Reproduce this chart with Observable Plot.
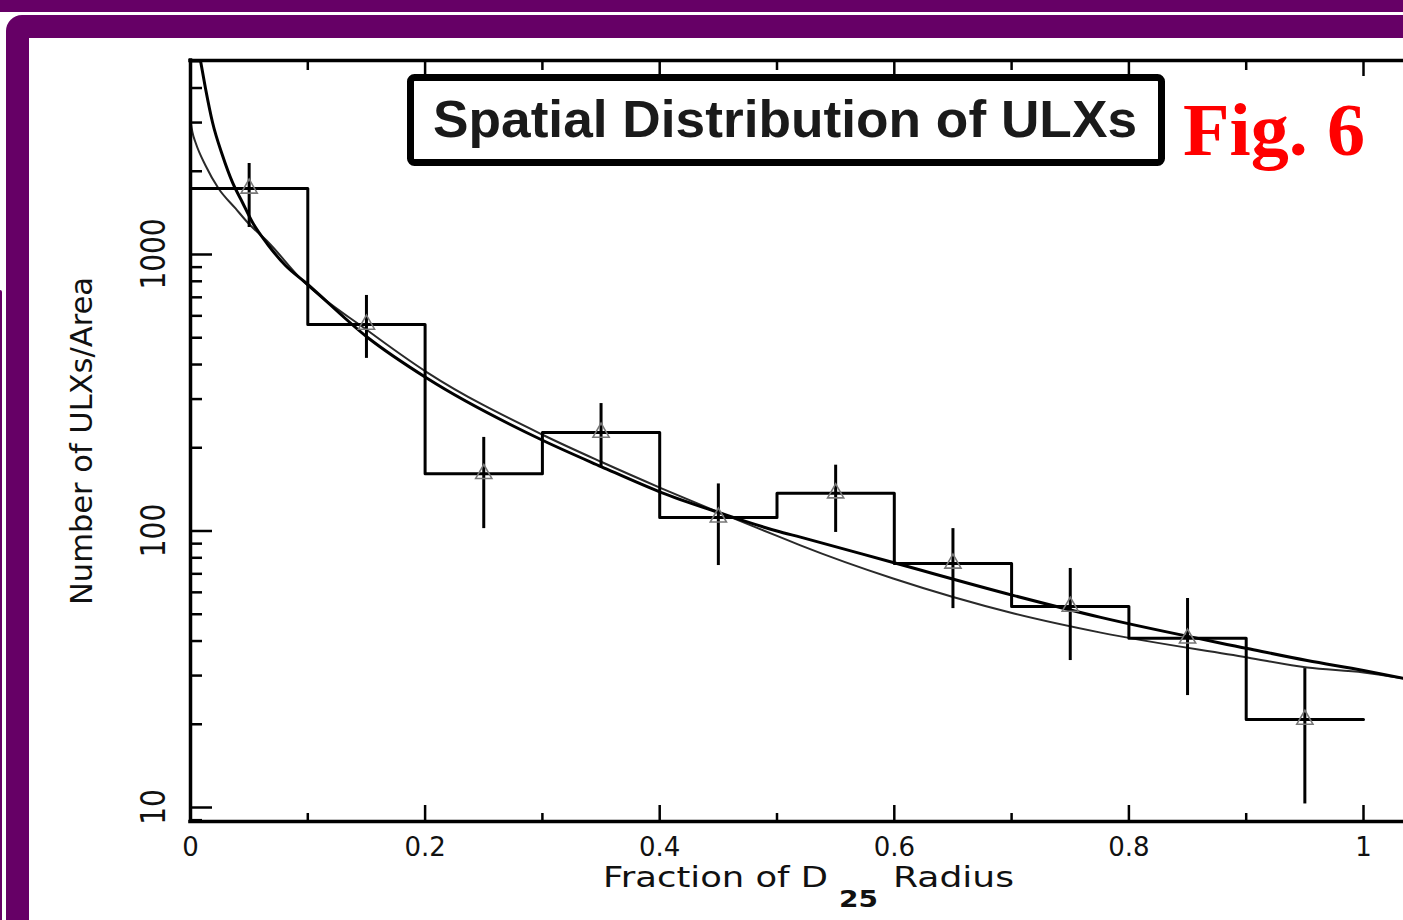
<!DOCTYPE html>
<html>
<head>
<meta charset="utf-8">
<script src="https://cdn.jsdelivr.net/npm/d3@7"></script>
<script src="https://cdn.jsdelivr.net/npm/@observablehq/plot@0.6"></script>
<style>
  html, body { margin: 0; padding: 0; background: #fff; }
  #wrap { position: relative; width: 1403px; height: 920px; overflow: hidden; background: #fff; }
  .abs { position: absolute; }
</style>
</head>
<body>
<div id="wrap">
  <div class="abs" style="left:0;top:0;width:1403px;height:12px;background:#660066"></div>
  <div class="abs" style="left:6px;top:15px;width:1500px;height:1000px;border-radius:16px;background:#660066"></div>
  <div class="abs" style="left:29px;top:38px;width:1400px;height:900px;background:#fff"></div>
  <div class="abs" style="left:0;top:290px;width:2px;height:700px;background:#660066;border-top-right-radius:2px"></div>
  <div id="chart" class="abs" style="left:0;top:0"></div>
</div>
<script>
// ---- data ----
const binStart  = [0, 0.1, 0.2, 0.3, 0.4, 0.5, 0.6, 0.7, 0.8, 0.9];
const binEnd    = 1.0;
const binCenter = [0.05, 0.15, 0.25, 0.35, 0.45, 0.55, 0.65, 0.75, 0.85, 0.95];
const counts    = [1733, 558, 161, 227, 112, 137, 76.3, 53.3, 40.9, 20.8];
const errHigh   = [2133, 711, 218, 289, 148, 173, 102, 73.2, 57, 31.8];
const errLow    = [1252, 421, 102, 170, 75, 98.8, 52.4, 34, 25.4, 10.3];

const thickX = [0.0085, 0.0128, 0.0188, 0.0273, 0.0358, 0.0443, 0.0529, 0.0665, 0.081, 0.098, 0.151, 0.202, 0.301, 0.35, 0.401, 0.452, 0.5, 0.52, 0.599, 0.702, 0.776, 0.901, 0.952, 1.0, 1.034];
const thickY = [5030, 3985, 3001, 2280, 1822, 1542, 1305, 1078, 912, 792, 501, 356, 212, 171, 138, 116, 100, 95, 76.9, 58.4, 48.7, 37.6, 34.0, 31.3, 29.3];

const thinX = [0, 0.0017, 0.0043, 0.0128, 0.0239, 0.0384, 0.0495, 0.0665, 0.0938, 0.151, 0.202, 0.301, 0.35, 0.401, 0.452, 0.5, 0.52, 0.599, 0.702, 0.776, 0.901, 0.952, 1.0, 1.034];
const thinY = [3052, 2762, 2542, 2098, 1733, 1467, 1294, 1105, 819, 531, 374, 222, 178, 143, 116, 96, 88.7, 67.3, 50.3, 42.9, 34.9, 32.1, 30.8, 29.3];

const xMajor = [0, 0.2, 0.4, 0.6, 0.8, 1];
const xMinor = [0.1, 0.3, 0.5, 0.7, 0.9];
const xTickLabels = ["0", "0.2", "0.4", "0.6", "0.8", "1"];
const yMajor = [10, 100, 1000];
const yTickLabels = ["10", "100", "1000"];
const yMinor = [9, 20, 30, 40, 50, 60, 70, 80, 90, 200, 300, 400, 500, 600, 700, 800, 900, 2000, 3000, 4000, 5000];

const xDomain = [0, 1.0341];
const yDomain = [8.9, 5030];

const titleText = "Spatial Distribution of ULXs";
const figText = "Fig. 6";
const yLabel = "Number of ULXs/Area";

// ---- derived tables ----
const stepData = binStart.map((x, i) => ({x, y: counts[i]})).concat([{x: binEnd, y: counts[counts.length - 1]}]);
const points = binCenter.map((x, i) => ({x, y: counts[i], lo: errLow[i], hi: errHigh[i]}));
const thick = thickX.map((x, i) => ({x, y: thickY[i]}));
const thin = thinX.map((x, i) => ({x, y: thinY[i]}));

const W = 1403, H = 920, mL = 190, mT = 60, mB = 99, mR = 0;
const plotH = H - mT - mB, plotW = W - mL - mR;
const FONT = "DejaVu Sans, sans-serif";

const plot = Plot.plot({
  width: W, height: H,
  marginLeft: mL, marginRight: mR, marginTop: mT, marginBottom: mB,
  x: {domain: xDomain, axis: null},
  y: {type: "log", domain: yDomain, axis: null},
  style: {background: "transparent", overflow: "visible", fontFamily: FONT},
  marks: [
    // curves
    Plot.line(thin, {x: "x", y: "y", curve: "monotone-x", stroke: "#2a2a2a", strokeWidth: 2}),
    Plot.line(thick, {x: "x", y: "y", curve: "monotone-x", stroke: "#000", strokeWidth: 3}),
    // histogram
    Plot.line(stepData, {x: "x", y: "y", curve: "step-after", stroke: "#000", strokeWidth: 3}),
    // error bars
    Plot.ruleX(points, {x: "x", y1: "lo", y2: "hi", stroke: "#000", strokeWidth: 3}),
    Plot.dot(points, {x: "x", y: "y", symbol: "triangle", r: 6, stroke: "#777", strokeWidth: 1.6, fill: "none"}),
    // frame
    Plot.ruleX([xDomain[0]], {stroke: "#000", strokeWidth: 3.5, strokeLinecap: "square"}),
    Plot.ruleY([yDomain[0]], {stroke: "#000", strokeWidth: 3.5, strokeLinecap: "square"}),
    Plot.ruleY([yDomain[1]], {stroke: "#000", strokeWidth: 3.5, strokeLinecap: "square"}),
    // x ticks (bottom, inward)
    Plot.tickX(xMajor, {x: d => d, insetTop: plotH - 16, stroke: "#000", strokeWidth: 2.5}),
    Plot.tickX(xMinor, {x: d => d, insetTop: plotH - 8, stroke: "#000", strokeWidth: 2.5}),
    // x ticks (top, inward)
    Plot.tickX(xMajor, {x: d => d, insetBottom: plotH - 16, stroke: "#000", strokeWidth: 2.5}),
    Plot.tickX(xMinor, {x: d => d, insetBottom: plotH - 10, stroke: "#000", strokeWidth: 2.5}),
    // y ticks (left, inward)
    Plot.tickY(yMajor, {y: d => d, insetRight: plotW - 22, stroke: "#000", strokeWidth: 2.5}),
    Plot.tickY(yMinor, {y: d => d, insetRight: plotW - 12, stroke: "#000", strokeWidth: 2.5}),
    // x tick labels
    Plot.text(xMajor, {x: d => d, text: (d, i) => xTickLabels[i], frameAnchor: "bottom", dy: 34, fontSize: 26, fill: "#111"})
  ]
});

document.getElementById("chart").appendChild(plot);

const sx = plot.scale("x"), sy = plot.scale("y");
const svg = d3.select(plot);

// y tick labels (rotated)
yMajor.forEach((v, i) => {
  svg.append("text")
    .attr("transform", `translate(165,${sy.apply(v)}) rotate(-90) scale(1,1.2)`)
    .attr("text-anchor", "middle")
    .attr("font-family", FONT)
    .attr("font-size", 28)
    .attr("fill", "#111")
    .text(yTickLabels[i]);
});

// y axis label
svg.append("text")
  .attr("transform", `translate(92,441) rotate(-90)`)
  .attr("text-anchor", "middle")
  .attr("font-family", FONT)
  .attr("font-size", 31)
  .attr("fill", "#111")
  .attr("textLength", 328)
  .attr("lengthAdjust", "spacingAndGlyphs")
  .text(yLabel);

// x axis label with subscript
const xl = svg.append("g").attr("font-family", FONT).attr("fill", "#111").attr("text-anchor", "start");
xl.append("text").attr("x", 603).attr("y", 887).attr("font-size", 29).attr("text-anchor", "start")
  .attr("textLength", 225).attr("lengthAdjust", "spacingAndGlyphs").text("Fraction of D");
xl.append("text").attr("x", 839).attr("y", 907).attr("font-size", 23).attr("font-weight", "bold").attr("text-anchor", "start")
  .attr("textLength", 39).attr("lengthAdjust", "spacingAndGlyphs").text("25");
xl.append("text").attr("x", 893).attr("y", 887).attr("font-size", 29).attr("text-anchor", "start")
  .attr("textLength", 121).attr("lengthAdjust", "spacingAndGlyphs").text("Radius");

// title box
svg.append("rect")
  .attr("x", 410.5).attr("y", 77.5).attr("width", 751).attr("height", 85)
  .attr("rx", 4).attr("fill", "#fff").attr("stroke", "#000").attr("stroke-width", 7);
svg.append("text")
  .attr("x", 785).attr("y", 137).attr("text-anchor", "middle")
  .attr("font-family", "Liberation Sans, Arial, sans-serif").attr("font-weight", "bold")
  .attr("font-size", 52).attr("fill", "#1a1a1a")
  .attr("textLength", 704).attr("lengthAdjust", "spacingAndGlyphs")
  .text(titleText);
svg.append("text")
  .attr("x", 1183).attr("y", 155).attr("text-anchor", "start")
  .attr("font-family", "Liberation Serif, Times New Roman, serif").attr("font-weight", "bold")
  .attr("font-size", 75).attr("fill", "#ff0000")
  .attr("textLength", 182).attr("lengthAdjust", "spacingAndGlyphs")
  .text(figText);
</script>
</body>
</html>
